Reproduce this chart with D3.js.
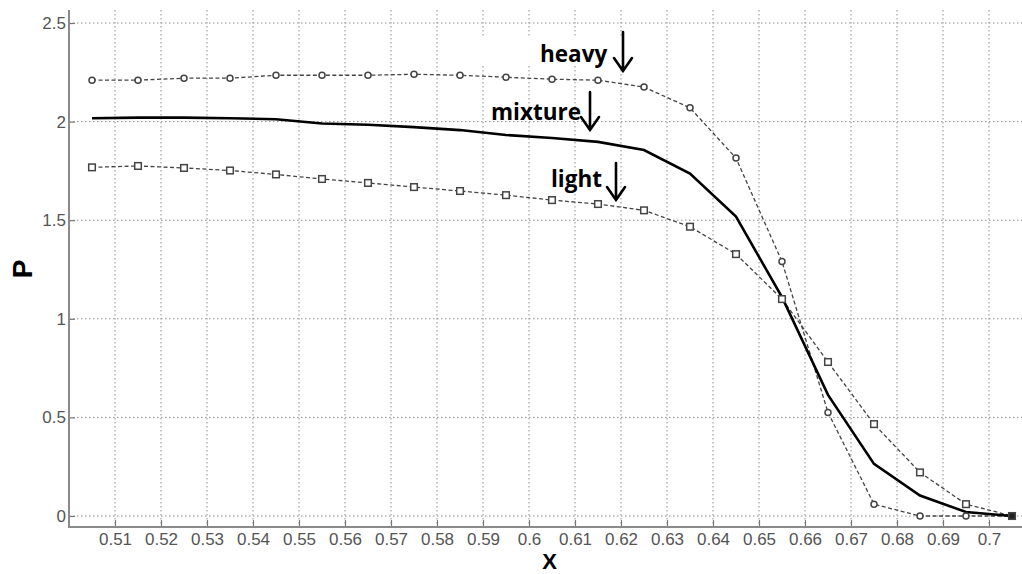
<!DOCTYPE html>
<html><head><meta charset="utf-8">
<script src="https://cdn.jsdelivr.net/npm/d3@7"></script>
<style>html,body{margin:0;padding:0;background:#fff;} svg{display:block;}</style>
</head><body>
<svg id="chart" width="1022" height="574"></svg>
<script>
const xValues = [0.505,0.515,0.525,0.535,0.545,0.555,0.565,0.575,0.585,0.595,0.605,0.615,0.625,0.635,0.645,0.655,0.665,0.675,0.685,0.695,0.705];
const heavy   = [2.21,2.21,2.22,2.22,2.235,2.235,2.235,2.24,2.235,2.225,2.215,2.21,2.175,2.07,1.815,1.29,0.525,0.06,0.0,0.0,0.0];
const mixture = [2.017,2.02,2.02,2.017,2.012,1.99,1.984,1.972,1.957,1.932,1.917,1.897,1.856,1.736,1.518,1.11,0.614,0.264,0.104,0.02,0.0];
const light   = [1.768,1.775,1.765,1.752,1.732,1.709,1.689,1.668,1.648,1.627,1.602,1.582,1.55,1.467,1.328,1.1,0.781,0.466,0.221,0.06,0.0];
const xTicks = [0.51,0.52,0.53,0.54,0.55,0.56,0.57,0.58,0.59,0.6,0.61,0.62,0.63,0.64,0.65,0.66,0.67,0.68,0.69,0.7];
const yTicks = [0,0.5,1,1.5,2,2.5];
const xTickLabels = ["0.51","0.52","0.53","0.54","0.55","0.56","0.57","0.58","0.59","0.6","0.61","0.62","0.63","0.64","0.65","0.66","0.67","0.68","0.69","0.7"];
const yTickLabels = ["0","0.5","1","1.5","2","2.5"];
const annotations = [
  {text:"heavy", x:540, y:62, ax:623, ay0:32, ay1:71},
  {text:"mixture", x:491, y:120, ax:590, ay0:92, ay1:130},
  {text:"light", x:551, y:187, ax:616, ay0:163, ay1:200}
];

const svg = d3.select("#chart");
const plotLeft = 69, plotBottom = 527, plotTop = 10;
const x = d3.scaleLinear().domain([0.5, 0.71]).range([plotLeft, plotLeft + 0.21*4600]);
const y = d3.scaleLinear().domain([0, 2.5]).range([516, 23]);

svg.append("rect").attr("width",1022).attr("height",574).attr("fill","#fff");

// grid
const grid = svg.append("g");
grid.selectAll("line.v").data(xTicks).join("line").attr("class","v")
  .attr("x1", d=>x(d)).attr("x2", d=>x(d)).attr("y1", plotTop).attr("y2", plotBottom)
  .attr("stroke","#8f8f8f").attr("stroke-width",1).attr("stroke-dasharray","1.5,2.5");
grid.selectAll("line.h").data(yTicks).join("line").attr("class","h")
  .attr("x1", plotLeft).attr("x2", 1022).attr("y1", d=>y(d)).attr("y2", d=>y(d))
  .attr("stroke","#8f8f8f").attr("stroke-width",1).attr("stroke-dasharray","1.5,2.5");

// white patch behind heavy label
svg.append("rect").attr("x",476).attr("y",36).attr("width",175).attr("height",30).attr("fill","#fff");

// axes
const xAxis = d3.axisBottom(x).tickValues(xTicks).tickFormat((d,i)=>xTickLabels[i]).tickSizeInner(-7).tickSizeOuter(0).tickPadding(6);
const gx = svg.append("g").attr("transform",`translate(0,${plotBottom})`).call(xAxis);
const yAxis = d3.axisLeft(y).tickValues(yTicks).tickFormat((d,i)=>yTickLabels[i]).tickSizeInner(-6).tickSizeOuter(0).tickPadding(3);
const gy = svg.append("g").attr("transform",`translate(${plotLeft},0)`).call(yAxis);
[gx, gy].forEach(g=>{
  g.select(".domain").remove();
  g.selectAll(".tick line").attr("stroke","#777").attr("stroke-width",1.2);
  g.selectAll(".tick text").attr("fill","#555").attr("font-family","Liberation Sans, Arial, sans-serif").attr("font-size","17px");
});
svg.append("line").attr("x1",plotLeft).attr("x2",plotLeft).attr("y1",plotTop).attr("y2",plotBottom+1).attr("stroke","#8a8a8a").attr("stroke-width",2);
svg.append("line").attr("x1",plotLeft).attr("x2",1022).attr("y1",plotBottom).attr("y2",plotBottom).attr("stroke","#8a8a8a").attr("stroke-width",2);

// lines
const line = d3.line().x((d,i)=>x(xValues[i])).y(d=>y(d));
svg.append("path").datum(heavy).attr("d",line).attr("fill","none")
  .attr("stroke","#444").attr("stroke-width",1.3).attr("stroke-dasharray","4,2.5");
svg.append("path").datum(light).attr("d",line).attr("fill","none")
  .attr("stroke","#444").attr("stroke-width",1.3).attr("stroke-dasharray","4,2.5");
svg.append("path").datum(mixture).attr("d",line).attr("fill","none")
  .attr("stroke","#000").attr("stroke-width",2.6);

// markers
svg.append("g").selectAll("circle").data(heavy).join("circle")
  .attr("cx",(d,i)=>x(xValues[i])).attr("cy",d=>y(d)).attr("r",3)
  .attr("fill","#fff").attr("stroke","#444").attr("stroke-width",1.5);
svg.append("g").selectAll("rect").data(light).join("rect")
  .attr("x",(d,i)=>x(xValues[i])-3.3).attr("y",d=>y(d)-3.3).attr("width",6.6).attr("height",6.6)
  .attr("fill",(d,i)=>i===light.length-1?"#222":"#fff").attr("stroke","#444").attr("stroke-width",1.5);

// annotations
const ann = svg.append("g");
ann.selectAll("text").data(annotations).join("text")
  .attr("x",d=>d.x).attr("y",d=>d.y).text(d=>d.text)
  .attr("font-family","Open Sans, sans-serif").attr("font-weight",700).attr("font-size","22.5px").attr("fill","#000");
ann.selectAll("path").data(annotations).join("path")
  .attr("d",d=>`M${d.ax},${d.ay0} L${d.ax},${d.ay1} M${d.ax-9},${d.ay1-13} L${d.ax},${d.ay1} L${d.ax+9},${d.ay1-13}`)
  .attr("fill","none").attr("stroke","#000").attr("stroke-width",2.6).attr("stroke-linecap","round").attr("stroke-linejoin","miter");

// axis titles
svg.append("text").attr("transform","translate(32,269) rotate(-90)").attr("text-anchor","middle")
  .attr("font-family","Liberation Sans, Arial, sans-serif").attr("font-weight",700).attr("font-size","28px").text("P");
svg.append("text").attr("x",549.5).attr("y",569).attr("text-anchor","middle")
  .attr("font-family","Liberation Sans, Arial, sans-serif").attr("font-weight",700).attr("font-size","22px").text("X");
</script>
</body></html>
